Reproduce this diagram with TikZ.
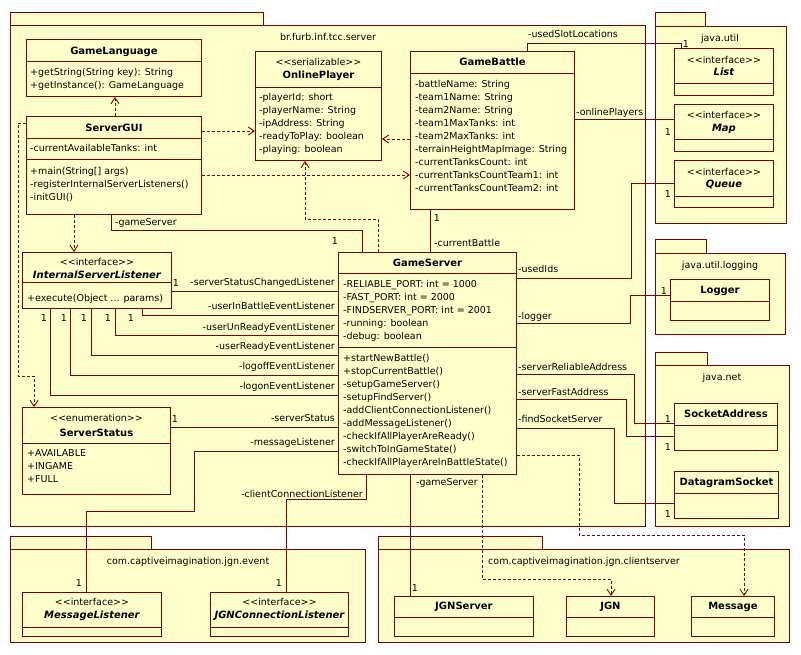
\documentclass[tikz,border=0pt]{standalone}
\usepackage{fontspec}
\setmainfont{DejaVu Sans}
\usetikzlibrary{arrows.meta}
\definecolor{umlfill}{RGB}{255,255,204}
\definecolor{umlline}{RGB}{128,0,0}
\newcommand{\umlfont}{\fontsize{9.5}{13}\selectfont}
\newcommand{\namefont}{\fontsize{10}{13}\selectfont}
\newcommand{\st}[1]{<{}<#1>{}>}
\tikzset{
  pkg/.style={draw=umlline, fill=umlfill, line width=0.9pt},
  pkglabel/.style={inner sep=0pt, anchor=base},
  cls/.style={draw=umlline, fill=umlfill, line width=0.9pt, inner sep=0pt, anchor=north west},
  bar/.style={draw=umlline, line width=0.9pt},
  cname/.style={inner sep=0pt, anchor=base, font=\namefont\bfseries},
  iname/.style={inner sep=0pt, anchor=base, font=\namefont\bfseries\itshape},
  stereo/.style={inner sep=0pt, anchor=base},
  members/.style={inner sep=0pt, anchor=north west, align=left},
  assoc/.style={draw=umlline, line width=0.9pt},
  dep/.style={draw=umlline, line width=0.9pt, dash pattern=on 3pt off 2pt,
    -{Straight Barb[length=6pt,width=8pt]}},
  role/.style={inner sep=0pt, anchor=base west},
  rrole/.style={inner sep=0pt, anchor=base east},
  mult/.style={inner sep=0pt},
}
\begin{document}
\begin{tikzpicture}[x=1pt, y=-1pt, font=\umlfont]
\useasboundingbox (0,0) rectangle (801,654);

% packages
\draw[pkg] (10,12) rectangle (263,25);
\draw[pkg] (10,25) rectangle (645,526);
\node[pkglabel] (srvpkg) at (328,40) {br.furb.inf.tcc.server};
\draw[pkg] (655,12) rectangle (705,26);
\draw[pkg] (655,26) rectangle (786,223);
\node[pkglabel] (utilpkg) at (720,41) {java.util};
\draw[pkg] (655,239) rectangle (706,253);
\draw[pkg] (655,253) rectangle (785,334);
\node[pkglabel] (logpkg) at (720,268) {java.util.logging};
\draw[pkg] (655,352) rectangle (707,365);
\draw[pkg] (655,365) rectangle (789,526);
\node[pkglabel] (netpkg) at (722,380) {java.net};
\draw[pkg] (10,536) rectangle (151,549);
\draw[pkg] (10,549) rectangle (365,642);
\node[pkglabel] (evpkg) at (188,564) {com.captiveimagination.jgn.event};
\draw[pkg] (378,536) rectangle (542,549);
\draw[pkg] (378,549) rectangle (789,642);
\node[pkglabel] (cspkg) at (584,564) {com.captiveimagination.jgn.clientserver};

% GameLanguage
\node[cls, minimum width=175, minimum height=57] (gl) at (26,39) {};
\draw[bar] (gl.west |- 0,61) -- (gl.east |- 0,61);
\node[cname] (glname) at (gl.north |- 0,54) {GameLanguage};
\node[members] (glops) at (30,68.5) {+getString(String key): String\\+getInstance(): GameLanguage};

% ServerGUI
\node[cls, minimum width=175, minimum height=98] (gui) at (26,116) {};
\draw[bar] (gui.west |- 0,138) -- (gui.east |- 0,138);
\draw[bar] (gui.west |- 0,159) -- (gui.east |- 0,159);
\node[cname] (guiname) at (gui.north |- 0,131) {ServerGUI};
\node[members] (guiattr) at (30,144) {-currentAvailableTanks: int};
\node[members] (guiops) at (30,167) {+main(String[] args)\\-registerInternalServerListeners()\\-initGUI()};

% OnlinePlayer
\node[cls, minimum width=126, minimum height=109] (op) at (255,51) {};
\draw[bar] (op.west |- 0,87) -- (op.east |- 0,87);
\node[stereo] (opst) at (op.north |- 0,65) {\st{serializable}};
\node[cname] (opname) at (op.north |- 0,78.5) {OnlinePlayer};
\node[members] (opattr) at (259,93.5) {-playerId: short\\-playerName: String\\-ipAddress: String\\-readyToPlay: boolean\\-playing: boolean};

% GameBattle
\node[cls, minimum width=164, minimum height=158] (gb) at (410,51) {};
\draw[bar] (gb.west |- 0,73) -- (gb.east |- 0,73);
\node[cname] (gbname) at (gb.north |- 0,65.5) {GameBattle};
\node[members] (gbattr) at (415,80.5) {-battleName: String\\-team1Name: String\\-team2Name: String\\-team1MaxTanks: int\\-team2MaxTanks: int\\-terrainHeightMapImage: String\\-currentTanksCount: int\\-currentTanksCountTeam1: int\\-currentTanksCountTeam2: int};

% java.util
\node[cls, minimum width=99, minimum height=47] (lst) at (674,48) {};
\draw[bar] (lst.west |- 0,83) -- (lst.east |- 0,83);
\node[stereo] (lstst) at (lst.north |- 0,63) {\st{interface}};
\node[iname] (lstname) at (lst.north |- 0,75.5) {List};
\node[cls, minimum width=99, minimum height=47] (map) at (674,104) {};
\draw[bar] (map.west |- 0,139) -- (map.east |- 0,139);
\node[stereo] (mapst) at (map.north |- 0,118.5) {\st{interface}};
\node[iname] (mapname) at (map.north |- 0,131.5) {Map};
\node[cls, minimum width=99, minimum height=47] (que) at (674,160) {};
\draw[bar] (que.west |- 0,196) -- (que.east |- 0,196);
\node[stereo] (quest) at (que.north |- 0,175) {\st{interface}};
\node[iname] (quename) at (que.north |- 0,187.5) {Queue};

% InternalServerListener
\node[cls, minimum width=149, minimum height=56] (isl) at (22,252) {};
\draw[bar] (isl.west |- 0,282) -- (isl.east |- 0,282);
\node[stereo] (islst) at (isl.north |- 0,265.5) {\st{interface}};
\node[iname] (islname) at (isl.north |- 0,278) {InternalServerListener};
\node[members] (islops) at (27,294) {+execute(Object ... params)};

% GameServer
\node[cls, minimum width=178, minimum height=222] (gs) at (338,252) {};
\draw[bar] (gs.west |- 0,273) -- (gs.east |- 0,273);
\draw[bar] (gs.west |- 0,347) -- (gs.east |- 0,347);
\node[cname] (gsname) at (gs.north |- 0,266) {GameServer};
\node[members] (gsattr) at (343,280.3) {-RELIABLE\_PORT: int = 1000\\-FAST\_PORT: int = 2000\\-FINDSERVER\_PORT: int = 2001\\-running: boolean\\-debug: boolean};
\node[members] (gsops) at (343,354) {+startNewBattle()\\+stopCurrentBattle()\\-setupGameServer()\\-setupFindServer()\\-addClientConnectionListener()\\-addMessageListener()\\-checkIfAllPlayerAreReady()\\-switchToInGameState()\\-checkIfAllPlayerAreInBattleState()};

% ServerStatus
\node[cls, minimum width=148, minimum height=87] (ss) at (22,407) {};
\draw[bar] (ss.west |- 0,443) -- (ss.east |- 0,443);
\node[stereo] (ssst) at (ss.north |- 0,421.5) {\st{enumeration}};
\node[cname] (ssname) at (ss.north |- 0,436) {ServerStatus};
\node[members] (ssvals) at (27,449.3) {+AVAILABLE\\+INGAME\\+FULL};

% java.util.logging, java.net
\node[cls, minimum width=99, minimum height=41] (log) at (670,279) {};
\draw[bar] (log.west |- 0,301) -- (log.east |- 0,301);
\node[cname] (logname) at (log.north |- 0,293.5) {Logger};
\node[cls, minimum width=103, minimum height=47] (sa) at (674,403) {};
\draw[bar] (sa.west |- 0,425) -- (sa.east |- 0,425);
\node[cname] (saname) at (sa.north |- 0,417.5) {SocketAddress};
\node[cls, minimum width=104, minimum height=47] (ds) at (674,471) {};
\draw[bar] (ds.west |- 0,493) -- (ds.east |- 0,493);
\node[cname] (dsname) at (ds.north |- 0,485) {DatagramSocket};

% jgn.event
\node[cls, minimum width=139, minimum height=44] (ml) at (22,592) {};
\draw[bar] (ml.west |- 0,627) -- (ml.east |- 0,627);
\node[stereo] (mlst) at (ml.north |- 0,605.5) {\st{interface}};
\node[iname] (mlname) at (ml.north |- 0,618.5) {MessageListener};
\node[cls, minimum width=138, minimum height=44] (jcl) at (210,592) {};
\draw[bar] (jcl.west |- 0,627) -- (jcl.east |- 0,627);
\node[stereo] (jclst) at (jcl.north |- 0,605.5) {\st{interface}};
\node[iname] (jclname) at (jcl.north |- 0,618.5) {JGNConnectionListener};

% jgn.clientserver
\node[cls, minimum width=139, minimum height=40] (jsrv) at (394,596) {};
\draw[bar] (jsrv.west |- 0,617) -- (jsrv.east |- 0,617);
\node[cname] (jsrvname) at (jsrv.north |- 0,609.5) {JGNServer};
\node[cls, minimum width=88, minimum height=40] (jgn) at (566,596) {};
\draw[bar] (jgn.west |- 0,617) -- (jgn.east |- 0,617);
\node[cname] (jgnname) at (jgn.north |- 0,609.5) {JGN};
\node[cls, minimum width=83, minimum height=40] (msg) at (691,596) {};
\draw[bar] (msg.west |- 0,617) -- (msg.east |- 0,617);
\node[cname] (msgname) at (msg.north |- 0,609.5) {Message};

% associations
\draw[assoc] (gb.north -| 527,0) |- (681,43) -- (lst.north -| 681,0);
\node[role] (r1) at (528,37) {-usedSlotLocations};
\node[mult] (m1) at (686,44) {1};
\draw[assoc] (gb.east |- 0,119) -- (map.west |- 0,119);
\node[role] (r2) at (576,115) {-onlinePlayers};
\node[mult] (m2) at (668,132) {1};
\draw[assoc] (gs.east |- 0,278) -| (631,183) -- (que.west |- 0,183);
\node[role] (r3) at (518,272) {-usedIds};
\node[mult] (m3) at (668,194) {1};
\draw[assoc] (gs.east |- 0,323) -| (630,295) -- (log.west |- 0,295);
\node[role] (r4) at (518,319) {-logger};
\node[mult] (m4) at (664,291) {1};
\draw[assoc] (gs.east |- 0,374) -| (634,423) -- (sa.west |- 0,423);
\node[role] (r5) at (518,370) {-serverReliableAddress};
\node[mult] (m5) at (668,419) {1};
\draw[assoc] (gs.east |- 0,399) -| (626,436) -- (sa.west |- 0,436);
\node[role] (r6) at (518,395) {-serverFastAddress};
\node[mult] (m6) at (668,447) {1};
\draw[assoc] (gs.east |- 0,428) -| (614,503) -- (ds.west |- 0,503);
\node[role] (r7) at (518,422) {-findSocketServer};
\node[mult] (m7) at (668,514) {1};
\draw[assoc] (gb.south -| 430,0) -- (gs.north -| 430,0);
\node[role] (r8) at (434,246) {-currentBattle};
\node[mult] (m8) at (437,218) {1};
\draw[assoc] (gui.south -| 111,0) |- (362,230) -- (gs.north -| 362,0);
\node[role] (r9) at (115,225) {-gameServer};
\node[mult] (m9) at (335,241) {1};

% listeners
\draw[assoc] (isl.east |- 0,291) -- (gs.west |- 0,291);
\node[rrole] (l1) at (335,285) {-serverStatusChangedListener};
\node[mult] (n1) at (176,283) {1};
\draw[assoc] (isl.south -| 142,0) |- (gs.west |- 0,315);
\node[rrole] (l2) at (335,309) {-userInBattleEventListener};
\node[mult] (n2) at (131,318) {1};
\draw[assoc] (isl.south -| 115,0) |- (gs.west |- 0,335);
\node[rrole] (l3) at (335,330) {-userUnReadyEventListener};
\node[mult] (n3) at (108,318) {1};
\draw[assoc] (isl.south -| 91,0) |- (gs.west |- 0,355);
\node[rrole] (l4) at (335,349) {-userReadyEventListener};
\node[mult] (n4) at (84,318) {1};
\draw[assoc] (isl.south -| 70,0) |- (gs.west |- 0,375);
\node[rrole] (l5) at (335,369) {-logoffEventListener};
\node[mult] (n5) at (64,318) {1};
\draw[assoc] (isl.south -| 50,0) |- (gs.west |- 0,395);
\node[rrole] (l6) at (335,389) {-logonEventListener};
\node[mult] (n6) at (44,318) {1};
\draw[assoc] (ss.east |- 0,427) -- (gs.west |- 0,427);
\node[rrole] (l7) at (335,421) {-serverStatus};
\node[mult] (n7) at (175,419) {1};
\draw[assoc] (gs.west |- 0,451) -| (194,511) -| (ml.north -| 86,0);
\node[rrole] (l8) at (335,445) {-messageListener};
\node[mult] (n8) at (79,583) {1};
\draw[assoc] (gs.south -| 366,0) |- (286,499) -- (jcl.north -| 286,0);
\node[rrole] (l9) at (363,497) {-clientConnectionListener};
\node[mult] (n9) at (279,583) {1};
\draw[assoc] (gs.south -| 410,0) -- (jsrv.north -| 410,0);
\node[role] (l10) at (416,485) {-gameServer};
\node[mult] (n10) at (415,588) {1};

% dependencies
\draw[dep] (gui.north -| 115,0) -- (gl.south -| 115,0);
\draw[dep] (gui.east |- 0,131) -- (op.west |- 0,131);
\draw[dep] (gb.west |- 0,139) -- (op.east |- 0,139);
\draw[dep] (gui.east |- 0,175) -- (gb.west |- 0,175);
\draw[dep] (gs.north -| 378,0) |- (305,219) -- (op.south -| 305,0);
\draw[dep] (gui.south -| 74,0) -- (isl.north -| 74,0);
\draw[dep] (gui.west |- 0,123) -| (18,376) -| (ss.north -| 34,0);
\draw[dep] (gs.south -| 482,0) |- (611,579) -- (jgn.north -| 611,0);
\draw[dep] (gs.east |- 0,455) -| (579,535) -| (msg.north -| 744,0);
\end{tikzpicture}
\end{document}
